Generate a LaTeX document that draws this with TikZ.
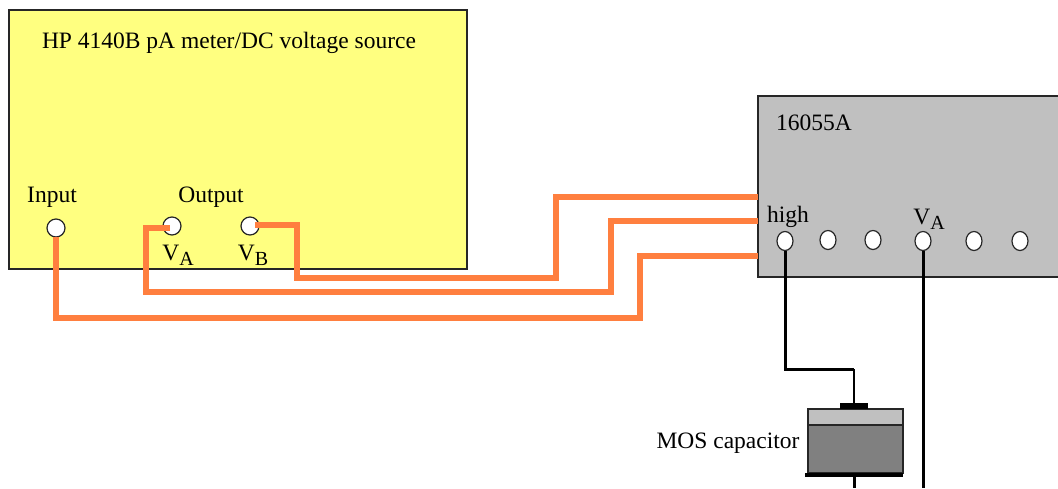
\documentclass[tikz,border=0pt]{standalone}
\usepackage{fontspec}
\setmainfont{Liberation Serif}
\newcommand{\lowtext}[1]{\raisebox{-5pt}{\fontsize{20}{20}\selectfont #1}}
\tikzset{
	lbl/.style={inner sep=0pt, font=\fontsize{23.5}{26}\selectfont},
	panel/.style={draw=black!85, line width=1.5pt, inner sep=0pt, outer sep=0pt, anchor=north west},
	term/.style={circle, draw=black!85, fill=white, line width=1.2pt, inner sep=0pt, outer sep=0pt, minimum size=18pt},
	termb/.style={ellipse, draw=black!85, fill=white, line width=1.2pt, inner sep=0pt, outer sep=0pt, minimum width=16pt, minimum height=19pt},
	orangewire/.style={draw=wirecolor, line width=5.5pt},
	blackwire/.style={draw=black, line width=3pt},
}
\usetikzlibrary{shapes.geometric}
\definecolor{wirecolor}{RGB}{255,127,63}
\definecolor{metercolor}{RGB}{255,255,128}
\definecolor{fixturecolor}{RGB}{192,192,192}
\begin{document}
\begin{tikzpicture}[x=1pt, y=-1pt]
	\useasboundingbox (0, 0) rectangle (1058, 488);
	\clip (0, 0) rectangle (1058, 488);

	% Define the two instrument boxes
	\node[panel, fill=metercolor, minimum width=458pt, minimum height=259pt] (meter) at (9, 10) {};
	\node[panel, fill=fixturecolor, minimum width=320pt, minimum height=181pt] (fixture) at (758, 96) {};

	% Text on the boxes
	\node[lbl] (title) at (229, 42.5) {HP 4140B pA meter/DC voltage source};
	\node[lbl] (input) at (52, 197) {Input};
	\node[lbl] (output) at (211, 197) {Output};
	\node[lbl] (va) at (178, 255) {V\lowtext{A}};
	\node[lbl] (vb) at (253, 255) {V\lowtext{B}};
	\node[lbl] (fixname) at (814, 123) {16055A};
	\node[lbl] (high) at (788, 217) {high};
	\node[lbl] (fixva) at (929, 219) {V\lowtext{A}};
	\node[lbl] (moslabel) at (728, 443) {MOS capacitor};

	% Coordinates where the wires meet the right box
	\coordinate (in1) at (758, 197);
	\coordinate (in2) at (758, 221);
	\coordinate (in3) at (758, 256);
	\coordinate (bottomva) at (923, 488);
	\coordinate (bottomcap) at (854, 488);

	% Define the terminals
	\node[term] (tinput) at (56, 228) {};
	\node[term] (tva) at (172, 226) {};
	\node[term] (tvb) at (250, 226) {};
	\node[termb] (t1) at (785, 241) {};
	\node[termb] (t2) at (828, 240) {};
	\node[termb] (t3) at (873, 240) {};
	\node[termb] (t4) at (923, 241) {};
	\node[termb] (t5) at (974, 241) {};
	\node[termb] (t6) at (1020, 241) {};

	% MOS capacitor layers
	\node[panel, fill=fixturecolor, minimum width=95pt, minimum height=16pt] (oxide) at (808, 409) {};
	\node[panel, fill=black!50, minimum width=95pt, minimum height=48pt] (bulk) at (808, 425) {};
	\node[fill=black, inner sep=0pt, outer sep=0pt, anchor=south, minimum width=28pt, minimum height=6pt] (gate) at (854, 409) {};
	\node[fill=black, inner sep=0pt, outer sep=0pt, anchor=north, minimum width=98pt, minimum height=4pt] (plate) at (854, 473) {};

	% Draw the wires between nodes
	\draw[orangewire] (tvb.center) ++(5, -1) -| (297, 278) -| (556, 197) -- (in1);
	\draw[orangewire] (tva.center) ++(-2, 2) -| (146, 292) -| (611, 221) -- (in2);
	\draw[orangewire] (tinput.south) -- (56, 318) -| (640, 256) -- (in3);
	\draw[blackwire] (t1.south) |- (854, 369);
	\draw[black, line width=2pt] (854, 369) -- (gate.north);
	\draw[blackwire] (t4.south) -- (bottomva);
	\draw[blackwire] (plate.south) -- (bottomcap);
\end{tikzpicture}
\end{document}
